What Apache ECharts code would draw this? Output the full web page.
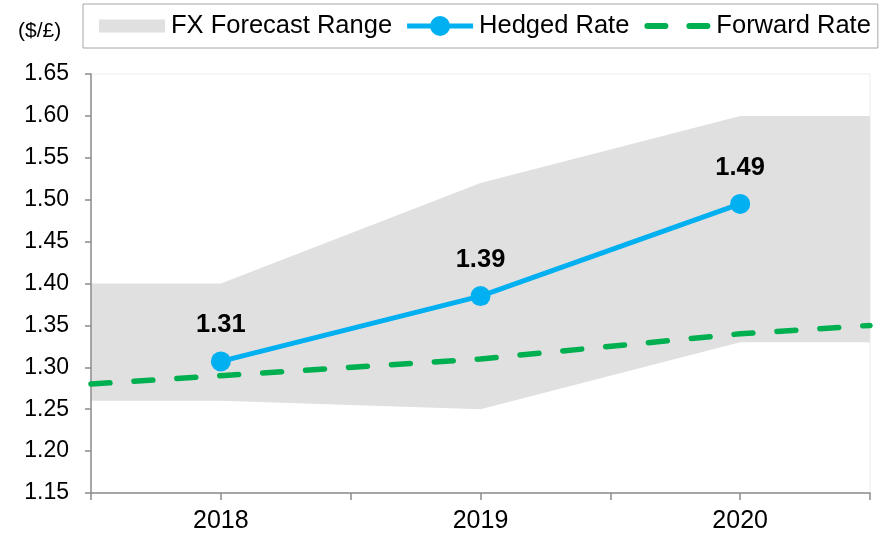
<!DOCTYPE html>
<html>
<head>
<meta charset="utf-8">
<script src="https://cdn.jsdelivr.net/npm/echarts@6/dist/echarts.min.js"></script>
<style>html,body{margin:0;padding:0;background:#fff}#c{width:888px;height:534px}</style>
</head>
<body>
<div id="c"></div>
<script>
// ---- data ----
var bandYears = [2017.5, 2018, 2019, 2020, 2020.5];
var bandLow = [1.26, 1.26, 1.25, 1.33, 1.33];
var bandHigh = [1.40, 1.40, 1.52, 1.60, 1.60];
var forwardRate = [1.28, 1.29, 1.31, 1.34, 1.35];
var hedgeYears = [2018, 2019, 2020];
var hedgedRate = [1.307, 1.385, 1.495];
var hedgedLabels = ['1.31', '1.39', '1.49'];
var yearLabels = ['2018', '2019', '2020'];
var unitLabel = '($/\u00A3)';
var legendNames = ['FX Forecast Range', 'Hedged Rate', 'Forward Rate'];

var FONT = '"Liberation Sans", Arial, sans-serif';
function zip(xs, ys) { return xs.map(function (x, i) { return [x, ys[i]]; }); }

var chart = echarts.init(document.getElementById('c'), null, { renderer: 'canvas' });
chart.setOption({
  animation: false,
  backgroundColor: '#fff',
  textStyle: { fontFamily: FONT },
  grid: { left: 91, right: 18, top: 74, bottom: 41, show: true, borderColor: '#ececec', borderWidth: 1 },
  graphic: [{
    type: 'text', left: 18, top: 21,
    style: { text: unitLabel, fontSize: 21, fontFamily: FONT, fill: '#000' }
  }],
  legend: {
    left: 83, top: 4,
    padding: [9, 7, 9, 16],
    borderColor: '#a6a6a6', borderWidth: 1,
    itemWidth: 66, itemHeight: 25, itemGap: 15,
    textStyle: { fontSize: 25.5, fontFamily: FONT, color: '#000', padding: [0, 0, 0, 1] },
    data: [
      { name: legendNames[0], icon: 'path://M0,0H66V13H0Z', itemStyle: { color: '#e0e0e0' } },
      { name: legendNames[1], icon: 'path://M0,7.5H66V12.5H0Z M23,10 A10,10 0 1,1 43,10 A10,10 0 1,1 23,10Z', itemStyle: { color: '#00b0f0' } },
      { name: legendNames[2], icon: 'path://M3,0H21A3,3 0 0,1 21,6H3A3,3 0 0,1 3,0Z M45,0H63A3,3 0 0,1 63,6H45A3,3 0 0,1 45,0Z', itemStyle: { color: '#00b050' } }
    ]
  },
  xAxis: {
    type: 'value', min: 2017.5, max: 2020.5, interval: 0.5, z: 3,
    axisLine: { show: true, lineStyle: { color: '#8c8c8c', width: 1.5 } },
    axisTick: { show: true, length: 7, lineStyle: { color: '#8c8c8c', width: 1.5 } },
    splitLine: { show: false },
    axisLabel: {
      fontSize: 25, color: '#000', margin: 16, fontFamily: FONT,
      formatter: function (v) {
        var i = hedgeYears.indexOf(v);
        return i >= 0 ? yearLabels[i] : '';
      }
    }
  },
  yAxis: {
    type: 'value', min: 1.15, max: 1.65, interval: 0.05, z: 3,
    axisLine: { show: true, lineStyle: { color: '#8c8c8c', width: 1.5 } },
    axisTick: { show: true, length: 6, lineStyle: { color: '#8c8c8c', width: 1.5 } },
    splitLine: { show: false },
    axisLabel: {
      fontSize: 23, color: '#000', margin: 22, fontFamily: FONT,
      formatter: function (v) { return v.toFixed(2); }
    }
  },
  series: [
    {
      name: legendNames[0], type: 'custom', z: 1, silent: true,
      itemStyle: { color: '#e0e0e0' },
      data: bandYears.map(function (x, i) { return [x, bandLow[i], bandHigh[i]]; }),
      encode: { x: 0, y: [1, 2] },
      renderItem: function (params, api) {
        if (params.dataIndex !== 0) return null;
        var pts = [];
        for (var i = 0; i < bandYears.length; i++) pts.push(api.coord([bandYears[i], bandHigh[i]]));
        for (var j = bandYears.length - 1; j >= 0; j--) pts.push(api.coord([bandYears[j], bandLow[j]]));
        return { type: 'polygon', shape: { points: pts }, style: { fill: '#e0e0e0' } };
      }
    },
    {
      name: legendNames[2], type: 'line', z: 4,
      data: zip(bandYears, forwardRate), symbol: 'none',
      itemStyle: { color: '#00b050' },
      lineStyle: { color: '#00b050', width: 5.5, type: [19, 24], cap: 'round' }
    },
    {
      name: legendNames[1], type: 'line', z: 5,
      data: zip(hedgeYears, hedgedRate),
      symbol: 'circle', symbolSize: 20,
      itemStyle: { color: '#00b0f0' },
      lineStyle: { color: '#00b0f0', width: 5 },
      label: {
        show: true, position: 'top', distance: 13,
        fontSize: 25.5, fontWeight: 'bold', color: '#000', fontFamily: FONT,
        formatter: function (p) { return hedgedLabels[p.dataIndex]; }
      }
    }
  ]
});
</script>
</body>
</html>
